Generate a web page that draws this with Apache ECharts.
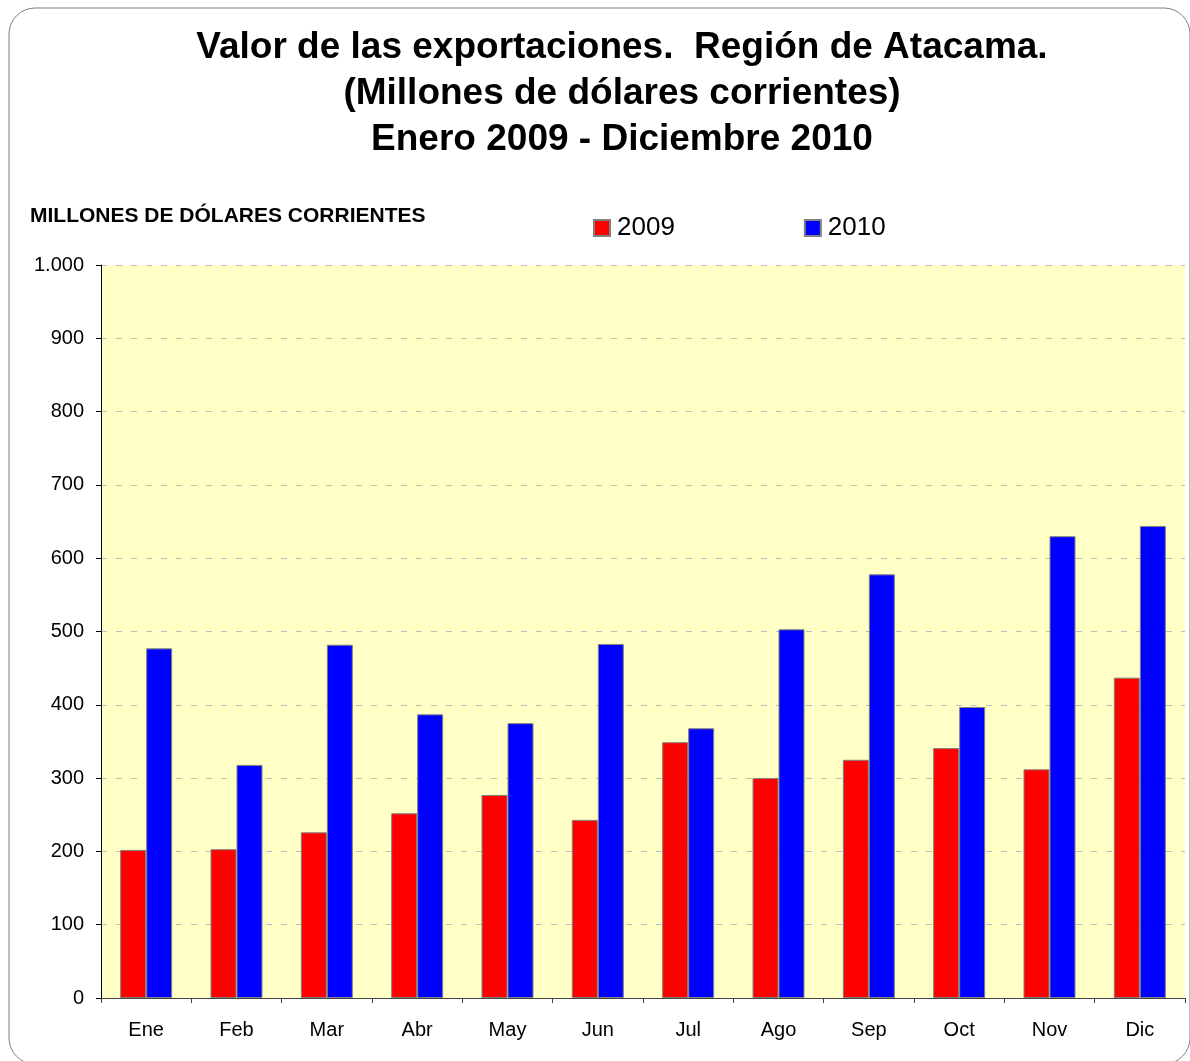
<!DOCTYPE html>
<html>
<head>
<meta charset="utf-8">
<script src="https://cdn.jsdelivr.net/npm/echarts@6/dist/echarts.min.js"></script>
<style>
  html, body { margin: 0; padding: 0; background: #fff; }
  #chart { width: 1190px; height: 1061px; }
</style>
</head>
<body>
<div id="chart"></div>
<script>
// ---- data ----
var meses = ['Ene', 'Feb', 'Mar', 'Abr', 'May', 'Jun', 'Jul', 'Ago', 'Sep', 'Oct', 'Nov', 'Dic'];
var exp2009 = [202, 203, 226, 252, 277, 243, 349, 300, 325, 341, 312, 437];
var exp2010 = [477, 318, 482, 387, 375, 483, 368, 503, 578, 397, 630, 644];

var fontFam = 'Liberation Sans, Arial, sans-serif';

var chart = echarts.init(document.getElementById('chart'));

var option = {
  animation: false,
  backgroundColor: '#ffffff',
  title: {
    text: 'Valor de las exportaciones.  Región de Atacama.\n(Millones de dólares corrientes)\nEnero 2009 - Diciembre 2010',
    left: 617,
    textAlign: 'center',
    top: 20,
    textStyle: {
      fontFamily: fontFam,
      fontSize: 37,
      fontWeight: 'bold',
      color: '#000',
      lineHeight: 46
    }
  },
  legend: {
    data: ['2009', '2010'],
    left: 593,
    top: 215,
    padding: 0,
    itemWidth: 16,
    itemHeight: 16,
    itemGap: 129,
    icon: 'rect',
    textStyle: { fontFamily: fontFam, fontSize: 26, color: '#000', padding: [0, 0, 0, 2] }
  },
  grid: {
    left: 101,
    right: 5,
    top: 265,
    bottom: 63,
    show: true,
    backgroundColor: '#ffffc6',
    borderWidth: 0
  },
  xAxis: {
    type: 'category',
    data: meses,
    axisLine: { lineStyle: { color: '#444', width: 1 } },
    axisTick: { show: true, length: 5, lineStyle: { color: '#444' } },
    axisLabel: { fontFamily: fontFam, fontSize: 20, color: '#000', margin: 22 }
  },
  yAxis: {
    type: 'value',
    min: 0,
    max: 1000,
    interval: 100,
    name: 'MILLONES DE DÓLARES CORRIENTES',
    nameLocation: 'end',
    nameGap: 38,
    nameTextStyle: {
      fontFamily: fontFam,
      fontSize: 21,
      fontWeight: 'bold',
      color: '#000',
      align: 'left',
      padding: [0, 0, 0, -71]
    },
    axisLine: { show: true, lineStyle: { color: '#000', width: 1 } },
    axisTick: { show: true, length: 5, lineStyle: { color: '#000' } },
    axisLabel: {
      fontFamily: fontFam,
      fontSize: 20,
      color: '#000',
      margin: 17,
      formatter: function (v) {
        return v >= 1000 ? (v / 1000) + '.' + String(v % 1000).padStart(3, '0') : String(v);
      }
    },
    splitLine: {
      show: true,
      lineStyle: { color: '#bdbdbd', type: [6, 9], width: 1 }
    }
  },
  series: [
    {
      name: '2009',
      type: 'bar',
      data: exp2009,
      barWidth: 26,
      barGap: '0%',
      itemStyle: { color: '#ff0000', borderColor: '#808080', borderWidth: 1 }
    },
    {
      name: '2010',
      type: 'bar',
      data: exp2010,
      barWidth: 26,
      barGap: '0%',
      itemStyle: { color: '#0000ff', borderColor: '#808080', borderWidth: 1 }
    }
  ],
  graphic: [
    {
      type: 'rect',
      shape: { x: 9, y: 8, width: 1181, height: 1056, r: 26 },
      style: { fill: 'none', stroke: '#808080', lineWidth: 1 },
      silent: true,
      z: 100
    }
  ]
};

chart.setOption(option);
</script>
</body>
</html>
